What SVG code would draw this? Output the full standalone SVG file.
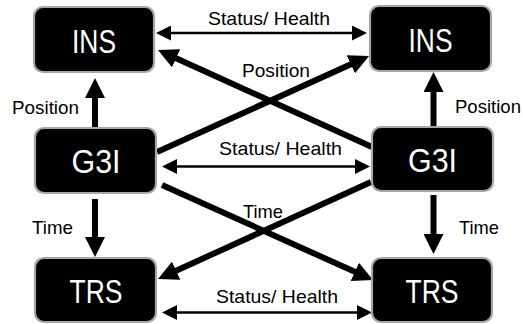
<svg xmlns="http://www.w3.org/2000/svg" width="523" height="324" viewBox="0 0 523 324">
<style>
.box{fill:#000;stroke:#a6a6a6;stroke-width:2.2}
.big{font-family:"Liberation Sans",Arial,sans-serif;font-size:33px;fill:#fff;text-anchor:middle}
.lbl{font-family:"Liberation Sans",Arial,sans-serif;font-size:18.5px;fill:#000}
.thick{stroke:#000;stroke-width:6;fill:none;marker-end:url(#ah)}
.thin{stroke:#000;stroke-width:2.5;fill:none;marker-start:url(#as);marker-end:url(#as)}
</style>
<defs>
<marker id="ah" markerUnits="userSpaceOnUse" markerWidth="20" markerHeight="20" refX="8" refY="10" orient="auto"><path d="M0,0 L20,10 L0,20 z" fill="#000"/></marker>
<marker id="as" markerUnits="userSpaceOnUse" markerWidth="15" markerHeight="15" refX="11" refY="7.5" orient="auto-start-reverse"><path d="M0,0 L15,7.5 L0,15 z" fill="#000"/></marker>
</defs>
<g id="connectors">
<line class="thick" x1="95" y1="128" x2="95" y2="90"/>
<line class="thick" x1="433.5" y1="127" x2="433.5" y2="84"/>
<line class="thick" x1="95" y1="199" x2="95" y2="245"/>
<line class="thick" x1="433.5" y1="195" x2="433.5" y2="242"/>
<line class="thick" x1="372" y1="147" x2="168.9" y2="55"/>
<line class="thick" x1="157" y1="152" x2="358.1" y2="61"/>
<line class="thick" x1="162" y1="185" x2="362.1" y2="275.1"/>
<line class="thick" x1="371" y1="182" x2="168.9" y2="274"/>
<line class="thin" x1="160" y1="33" x2="363" y2="33"/>
<line class="thin" x1="166" y1="166.5" x2="366" y2="166.5"/>
<line class="thin" x1="166" y1="312.5" x2="368" y2="312.5"/>
<text class="lbl" x="208" y="25" textLength="122" lengthAdjust="spacingAndGlyphs">Status/ Health</text>
<text class="lbl" x="242" y="77" textLength="68" lengthAdjust="spacingAndGlyphs">Position</text>
<text class="lbl" x="219" y="155" textLength="123" lengthAdjust="spacingAndGlyphs">Status/ Health</text>
<text class="lbl" x="243" y="218" textLength="40" lengthAdjust="spacingAndGlyphs">Time</text>
<text class="lbl" x="12" y="114" textLength="67" lengthAdjust="spacingAndGlyphs">Position</text>
<text class="lbl" x="455" y="113" textLength="66" lengthAdjust="spacingAndGlyphs">Position</text>
<text class="lbl" x="32" y="234" textLength="41" lengthAdjust="spacingAndGlyphs">Time</text>
<text class="lbl" x="459" y="234" textLength="40" lengthAdjust="spacingAndGlyphs">Time</text>
<text class="lbl" x="216" y="302.5" textLength="122" lengthAdjust="spacingAndGlyphs">Status/ Health</text>
</g>
<g id="ins-left"><rect class="box" x="34" y="7" width="120" height="65" rx="9"/><text class="big" x="94" y="52.5" textLength="44" lengthAdjust="spacingAndGlyphs">INS</text></g>
<g id="ins-right"><rect class="box" x="370" y="6" width="121" height="65" rx="9"/><text class="big" x="430.5" y="51.5" textLength="44" lengthAdjust="spacingAndGlyphs">INS</text></g>
<g id="g3i-left"><rect class="box" x="35" y="128" width="121" height="65" rx="9"/><text class="big" x="96" y="173" textLength="49" lengthAdjust="spacingAndGlyphs">G3I</text></g>
<g id="g3i-right"><rect class="box" x="372" y="127" width="121" height="64" rx="9"/><text class="big" x="432.5" y="171.5" textLength="49" lengthAdjust="spacingAndGlyphs">G3I</text></g>
<g id="trs-left"><rect class="box" x="35" y="258" width="121" height="64" rx="9"/><text class="big" x="96" y="302.5" textLength="53" lengthAdjust="spacingAndGlyphs">TRS</text></g>
<g id="trs-right"><rect class="box" x="372" y="258" width="120" height="64" rx="9"/><text class="big" x="432" y="302.5" textLength="53" lengthAdjust="spacingAndGlyphs">TRS</text></g>
</svg>
